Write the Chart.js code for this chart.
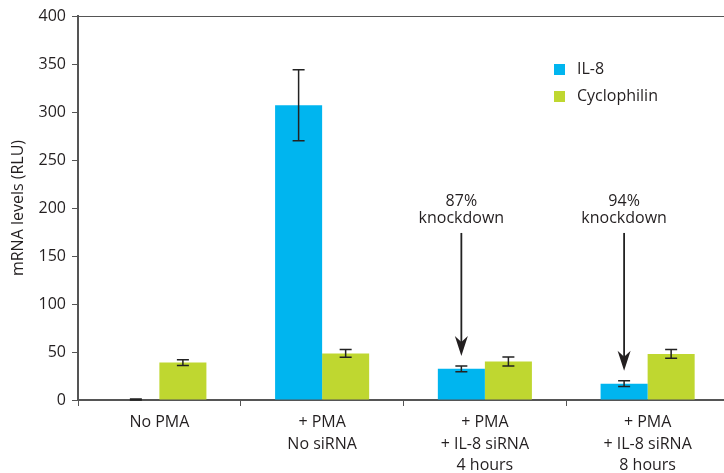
<!DOCTYPE html>
<html>
<head>
<meta charset="utf-8">
<script src="https://cdn.jsdelivr.net/npm/chart.js@4"></script>
<style>
  html, body { margin: 0; padding: 0; background: #fff; overflow: hidden; }
  #wrap { width: 729px; height: 473px; }
</style>
</head>
<body>
<div id="wrap"><canvas id="mrnaChart"></canvas></div>
<script>
const categories = [
  ['No PMA'],
  ['+ PMA', 'No siRNA'],
  ['+ PMA', '+ IL-8 siRNA', '4 hours'],
  ['+ PMA', '+ IL-8 siRNA', '8 hours']
];
const il8 = [0.5, 307, 32.5, 17];
const il8Err = [0.5, 37, 3, 3];
const cyclophilin = [39, 48.5, 40, 48];
const cyclophilinErr = [3, 4, 4.7, 4.5];
const knockdownText = ['87%', '94%'];
const knockdownAt = [2, 3];
const arrowFrom = 174;

const textColor = '#231f20';
const axisColor = '#555';
const font = 'Open Sans';

// error bars on top of every bar
const errorBars = {
  id: 'errorBars',
  afterDatasetsDraw(chart) {
    const ctx = chart.ctx;
    const y = chart.scales.y;
    const errs = [il8Err, cyclophilinErr];
    ctx.save();
    ctx.strokeStyle = '#222';
    ctx.lineWidth = 1.5;
    chart.data.datasets.forEach((ds, i) => {
      chart.getDatasetMeta(i).data.forEach((bar, j) => {
        const v = ds.data[j], e = errs[i][j];
        const top = y.getPixelForValue(v + e);
        const bot = y.getPixelForValue(v - e);
        ctx.beginPath();
        ctx.moveTo(bar.x, top); ctx.lineTo(bar.x, bot);
        ctx.moveTo(bar.x - 6, top); ctx.lineTo(bar.x + 6, top);
        ctx.moveTo(bar.x - 6, bot); ctx.lineTo(bar.x + 6, bot);
        ctx.stroke();
      });
    });
    ctx.restore();
  }
};

// "xx% knockdown" arrows pointing at the IL-8 bars
const knockdown = {
  id: 'knockdown',
  afterDraw(chart) {
    const ctx = chart.ctx;
    const y = chart.scales.y;
    ctx.save();
    ctx.fillStyle = textColor;
    ctx.strokeStyle = '#222';
    ctx.lineWidth = 1.8;
    ctx.font = '16px "' + font + '"';
    ctx.textAlign = 'center';
    ctx.textBaseline = 'middle';
    knockdownAt.forEach((idx, k) => {
      const x = chart.getDatasetMeta(0).data[idx].x;
      const top = y.getPixelForValue(arrowFrom);
      const tip = y.getPixelForValue(il8[idx] + il8Err[idx]) - 10;
      ctx.fillText(knockdownText[k], x, top - 32);
      ctx.fillText('knockdown', x, top - 14.5);
      ctx.beginPath();
      ctx.moveTo(x, top);
      ctx.lineTo(x, tip - 12);
      ctx.stroke();
      ctx.beginPath();
      ctx.moveTo(x, tip);
      ctx.lineTo(x - 6.5, tip - 20);
      ctx.lineTo(x, tip - 14);
      ctx.lineTo(x + 6.5, tip - 20);
      ctx.closePath();
      ctx.fill();
    });
    ctx.restore();
  }
};

const legendBox = {
  id: 'legendBox',
  afterDraw(chart) {
    const ctx = chart.ctx;
    ctx.save();
    ctx.font = '16px "' + font + '"';
    ctx.textBaseline = 'middle';
    chart.data.datasets.forEach((ds, i) => {
      const cy = 69.5 + i * 27;
      ctx.fillStyle = ds.backgroundColor;
      ctx.fillRect(554, cy - 5.5, 11, 11);
      ctx.fillStyle = textColor;
      ctx.fillText(ds.label, 577, cy);
    });
    ctx.restore();
  }
};

const data = {
  labels: categories,
  datasets: [{
    label: 'IL-8',
    data: il8,
    backgroundColor: '#00b5ef',
    borderWidth: 0,
    barPercentage: 1,
    categoryPercentage: 0.578
  }, {
    label: 'Cyclophilin',
    data: cyclophilin,
    backgroundColor: '#bfd730',
    borderWidth: 0,
    barPercentage: 1,
    categoryPercentage: 0.578
  }]
};

const config = {
  type: 'bar',
  data: data,
  options: {
    responsive: true,
    maintainAspectRatio: false,
    animation: false,
    layout: { padding: { top: 16, left: 0, right: 0, bottom: 0 } },
    plugins: {
      legend: { display: false },
      tooltip: { enabled: false }
    },
    scales: {
      x: {
        offset: true,
        afterFit: s => { s.height = 73; },
        border: { display: true, color: axisColor, width: 2 },
        grid: {
          offset: true,
          drawOnChartArea: false,
          drawTicks: true,
          tickLength: 6,
          color: axisColor,
          lineWidth: 1
        },
        ticks: {
          color: textColor,
          font: { family: font, size: 16, lineHeight: 1.34 },
          padding: 6,
          maxRotation: 0,
          autoSkip: false
        }
      },
      y: {
        min: 0,
        max: 400,
        afterFit: s => { s.width = 78; },
        border: { display: true, color: axisColor, width: 2 },
        grid: {
          drawOnChartArea: true,
          drawTicks: true,
          tickLength: 6,
          tickColor: axisColor,
          color: c => (c.tick && c.tick.value === 400) ? axisColor : 'rgba(0,0,0,0)',
          lineWidth: 1
        },
        ticks: {
          stepSize: 50,
          color: textColor,
          font: { family: font, size: 16 },
          padding: 6
        },
        title: {
          display: true,
          text: 'mRNA levels (RLU)',
          color: textColor,
          font: { family: font, size: 16 },
          padding: { top: 9, bottom: 0 }
        }
      }
    }
  },
  plugins: [errorBars, knockdown, legendBox]
};

const mrnaChart = new Chart(document.getElementById('mrnaChart'), config);
</script>
</body>
</html>
